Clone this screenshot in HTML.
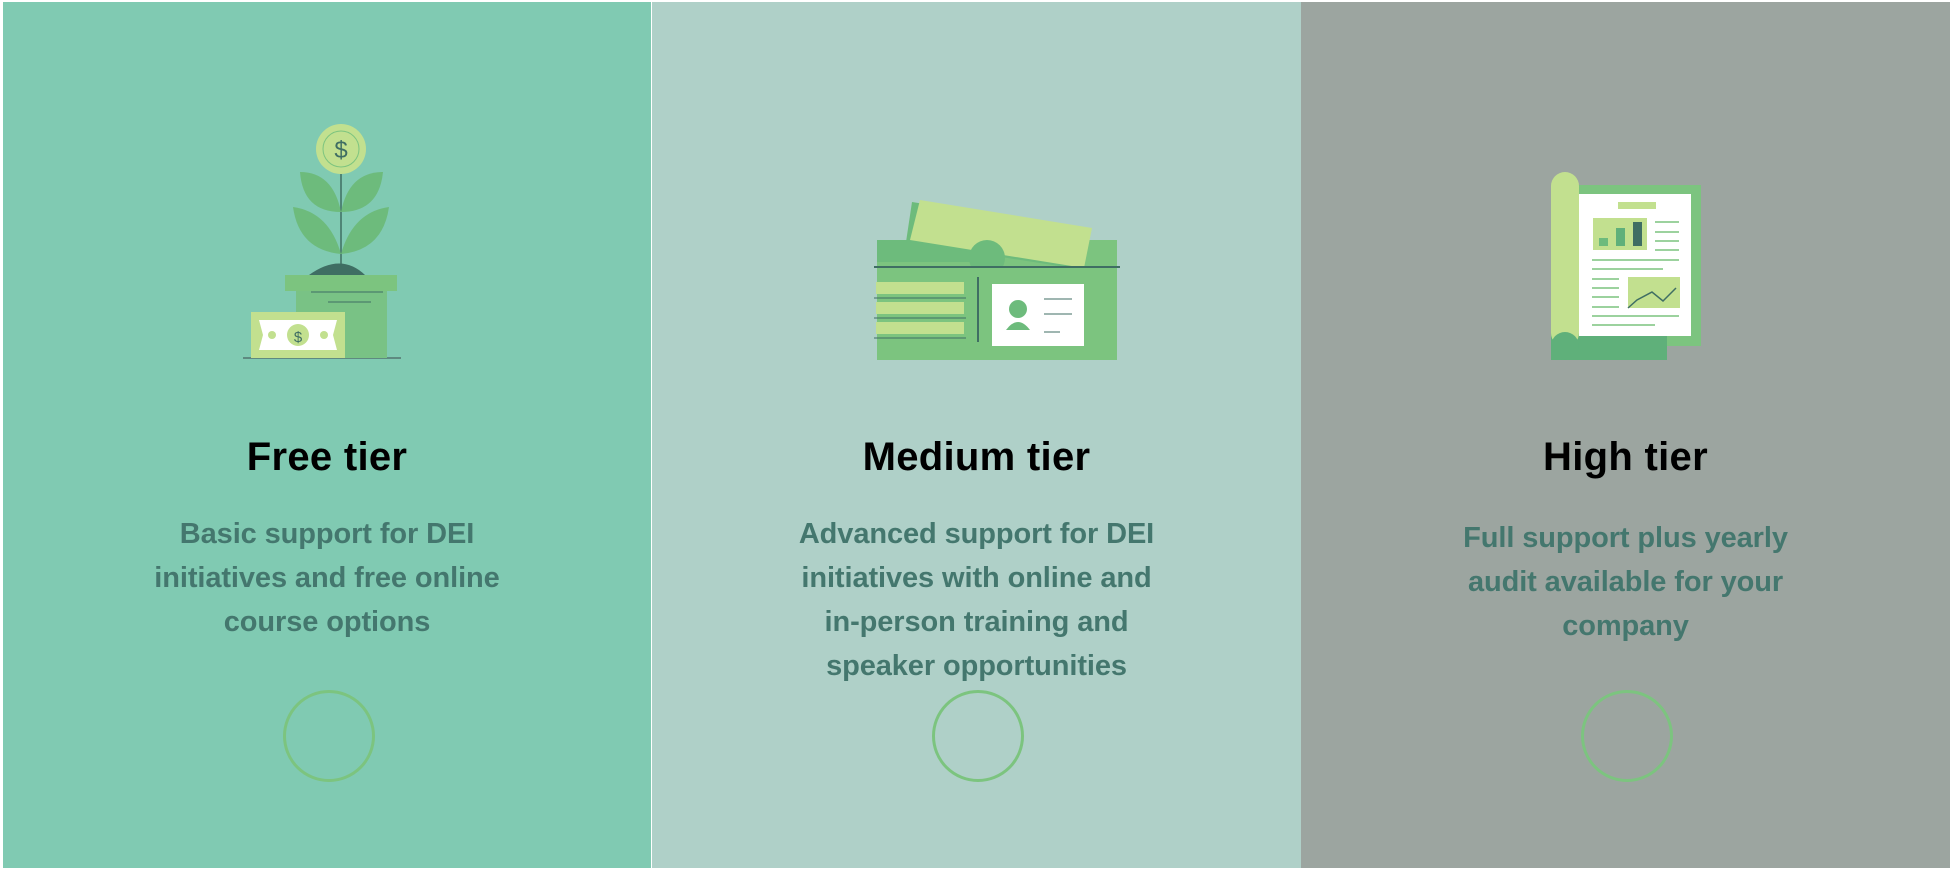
<!DOCTYPE html>
<html><head><meta charset="utf-8"><style>
body{margin:0;width:1954px;height:874px;background:#fff;position:relative;overflow:hidden;font-family:"Liberation Sans",sans-serif}
.panel{position:absolute;top:2px;height:866px}
.t{position:absolute;left:0;right:0;text-align:center;font-size:40px;font-weight:bold;color:#000;letter-spacing:0.3px}
.b{position:absolute;left:0;right:0;text-align:center;font-size:29px;font-weight:bold;color:#44776e;line-height:44px;letter-spacing:-0.1px}
.c{position:absolute;width:86px;height:86px;border:3px solid #7cc47f;border-radius:50%;}
svg{position:absolute;left:0;top:0}
</style></head><body>
<div class="panel" style="left:3px;width:648px;background:#80cab2">
<svg width="648" height="866">
 <line x1="240" y1="356" x2="398" y2="356" stroke="#5e8a80" stroke-width="2"/>
 <path d="M306 273 Q338 250 362 273Z" fill="#3f6e63"/>
 <line x1="338" y1="172" x2="338" y2="265" stroke="#3f6e63" stroke-width="1.5"/>
 <path d="M297 170 Q330 170 338 210 Q300 210 297 170Z" fill="#6dbb7c"/>
 <path d="M380 170 Q346 170 338 210 Q376 210 380 170Z" fill="#6dbb7c"/>
 <path d="M290 205 Q326 210 338 252 Q296 248 290 205Z" fill="#6dbb7c"/>
 <path d="M386 205 Q350 210 338 252 Q380 248 386 205Z" fill="#6dbb7c"/>
 <circle cx="338" cy="147" r="25" fill="#c2e08f"/><circle cx="338" cy="147" r="18" fill="none" stroke="#7cc47f"/>
 <text x="338" y="156" text-anchor="middle" font-size="24" fill="#3f6e63">$</text>
 <rect x="282" y="273" width="112" height="16" fill="#7cc47f"/>
 <rect x="293" y="289" width="91" height="67" fill="#79c285"/>
 <line x1="308" y1="290" x2="380" y2="290" stroke="#3f6e63"/><line x1="325" y1="300" x2="368" y2="300" stroke="#3f6e63"/>
 <rect x="248" y="310" width="94" height="46" fill="#c2e08f"/>
 <path d="M256 318 H334 L330 333 L334 348 H256 L260 333Z" fill="#fff"/>
 <circle cx="295" cy="333" r="11" fill="#c2e08f"/><circle cx="269" cy="333" r="4" fill="#c2e08f"/><circle cx="321" cy="333" r="4" fill="#c2e08f"/>
 <text x="295" y="340" text-anchor="middle" font-size="15" fill="#3f6e63">$</text>
</svg>
<div class="t" style="top:433px">Free tier</div>
<div class="b" style="top:510px">Basic support for DEI<br>initiatives and free online<br>course options</div>
<div class="c" style="left:280px;top:688px"></div>
</div>
<div class="panel" style="left:652px;width:649px;background:#afd0c8">
<svg width="649" height="866">
 <rect x="225" y="238" width="240" height="120" fill="#7cc47f"/>
 <rect x="225" y="238" width="120" height="22" fill="#6dbb7c"/>
 <path d="M260 200 L436 228 L432 268 L254 240Z" fill="#6dbb7c"/>
 <path d="M268 198 L440 226 L432 266 L258 238Z" fill="#c2e08f"/>
 <circle cx="335" cy="256" r="18" fill="#6dbb7c"/>
 <rect x="225" y="265" width="240" height="93" fill="#7cc47f"/>
 <line x1="222" y1="265" x2="468" y2="265" stroke="#3f6e63" stroke-width="2"/>
 <rect x="224" y="280" width="88" height="12" fill="#c2e08f"/><rect x="224" y="300" width="88" height="12" fill="#c2e08f"/><rect x="224" y="320" width="88" height="12" fill="#c2e08f"/>
 <line x1="222" y1="296" x2="314" y2="296" stroke="#3f6e63"/><line x1="222" y1="316" x2="314" y2="316" stroke="#3f6e63"/><line x1="222" y1="336" x2="314" y2="336" stroke="#3f6e63"/>
 <line x1="326" y1="275" x2="326" y2="340" stroke="#3f6e63" stroke-width="2"/>
 <rect x="340" y="282" width="92" height="62" fill="#fff"/>
 <circle cx="366" cy="307" r="9" fill="#6dbb7c"/><path d="M354 328 Q366 312 378 328Z" fill="#6dbb7c"/>
 <line x1="392" y1="297" x2="420" y2="297" stroke="#3f6e63"/><line x1="392" y1="312" x2="420" y2="312" stroke="#3f6e63"/><line x1="392" y1="330" x2="408" y2="330" stroke="#3f6e63"/>
</svg>
<div class="t" style="top:433px">Medium tier</div>
<div class="b" style="top:510px">Advanced support for DEI<br>initiatives with online and<br>in-person training and<br>speaker opportunities</div>
<div class="c" style="left:280px;top:688px"></div>
</div>
<div class="panel" style="left:1301px;width:649px;background:#9ca5a0">
<svg width="649" height="866">
 <rect x="268" y="183" width="132" height="161" fill="#7cc47f"/>
 <rect x="250" y="330" width="116" height="28" fill="#5fb07a"/>
 <rect x="250" y="170" width="28" height="175" rx="14" fill="#c2e08f"/>
 <circle cx="264" cy="344" r="14" fill="#5fb07a"/>
 <rect x="278" y="192" width="112" height="142" fill="#fff"/>
 <rect x="317" y="200" width="38" height="7" fill="#c2e08f"/>
 <rect x="292" y="216" width="54" height="32" fill="#c2e08f"/>
 <rect x="298" y="236" width="9" height="8" fill="#6dbb7c"/><rect x="315" y="226" width="9" height="18" fill="#5fb07a"/><rect x="332" y="220" width="9" height="24" fill="#3f6e63"/>
 <rect x="327" y="275" width="52" height="31" fill="#c2e08f"/>
 <polyline points="327,306 336,298 351,290 362,299 375,286" fill="none" stroke="#3f6e63" stroke-width="1.5"/>
 <g stroke="#7cc47f" stroke-width="1.5"><line x1="354" y1="220" x2="378" y2="220"/><line x1="354" y1="230" x2="378" y2="230"/><line x1="354" y1="239" x2="378" y2="239"/><line x1="354" y1="248" x2="378" y2="248"/><line x1="291" y1="258" x2="378" y2="258"/><line x1="291" y1="267" x2="362" y2="267"/><line x1="291" y1="277" x2="318" y2="277"/><line x1="291" y1="286" x2="318" y2="286"/><line x1="291" y1="295" x2="318" y2="295"/><line x1="291" y1="305" x2="318" y2="305"/><line x1="291" y1="314" x2="378" y2="314"/><line x1="291" y1="323" x2="354" y2="323"/></g>
</svg>
<div class="t" style="top:433px">High tier</div>
<div class="b" style="top:514px">Full support plus yearly<br>audit available for your<br>company</div>
<div class="c" style="left:280px;top:688px"></div>
</div>
</body></html>
